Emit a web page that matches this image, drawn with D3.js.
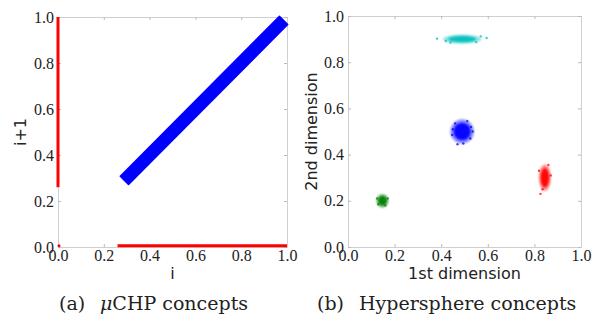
<!DOCTYPE html>
<html><head><meta charset="utf-8">
<script src="https://cdn.jsdelivr.net/npm/d3@7"></script>
<style>
html,body{margin:0;padding:0;background:#fff;}
svg{display:block;}
.tick text{font-family:"Liberation Serif",serif;font-size:16px;fill:#222;}
.axlab{font-family:"DejaVu Sans",sans-serif;font-size:16px;fill:#222;}
.cap{font-family:"DejaVu Serif",serif;font-size:19px;fill:#222;}
</style></head>
<body>
<svg id="c" width="592" height="322"></svg>
<script>
// ---- data ----
const tickValues = [0, 0.2, 0.4, 0.6, 0.8, 1.0];
// panel (a): μCHP concepts — (i, i+1) pairs
const diagStart = [0.29, 0.29], diagEnd = [0.985, 0.985], diagHalfWidth = 0.018;
const redVertical = [[0.0, 0.26], [0.0, 1.0]];
const redHorizontal = [[0.26, 0.005], [1.0, 0.005]];
const redOrigin = [0.0, 0.005];
// panel (b): hypersphere concept clusters
const clusterColor = ["#00bfbf", "#0000ff", "#008000", "#ff0000"];
const clusterX = [0.49, 0.49, 0.148, 0.845];
const clusterY = [0.90, 0.50, 0.20, 0.30];
const clusterSpreadX = [0.075, 0.046, 0.024, 0.023];
const clusterSpreadY = [0.017, 0.048, 0.027, 0.052];
const outliers = [
  [0, 0.382, 0.902], [0, 0.595, 0.905], [0, 0.42, 0.892], [0, 0.57, 0.912], [0, 0.44, 0.885], [0, 0.55, 0.887],
  [1, 0.447, 0.485], [1, 0.47, 0.445], [1, 0.528, 0.52], [1, 0.512, 0.545], [1, 0.46, 0.535], [1, 0.525, 0.47],
  [1, 0.495, 0.448], [1, 0.45, 0.51], [1, 0.535, 0.5],
  [2, 0.13, 0.185], [2, 0.17, 0.21], [2, 0.16, 0.18], [2, 0.125, 0.21],
  [3, 0.826, 0.23], [3, 0.87, 0.31], [3, 0.82, 0.33], [3, 0.86, 0.355], [3, 0.835, 0.25]
];
const captionA = ["(a)", "μ", "CHP concepts"];
const captionB = ["(b)", "Hypersphere concepts"];

const svg = d3.select("#c");
svg.append("rect").attr("width",592).attr("height",322).attr("fill","#fff");
const defs = svg.append("defs");
defs.append("filter").attr("id","fuzz").attr("x","-50%").attr("y","-50%").attr("width","200%").attr("height","200%")
  .append("feGaussianBlur").attr("stdDeviation",0.9);

function frame(g, x, y) {
  const ax = [
    [d3.axisBottom(x), y.range()[0], true, "x"],
    [d3.axisTop(x), y.range()[1], false, "x"],
    [d3.axisLeft(y), x.range()[0], true, "y"],
    [d3.axisRight(y), x.range()[1], false, "y"]
  ];
  ax.forEach(([a, pos, labels, dir]) => {
    a.tickValues(tickValues).tickSizeInner(-3).tickSizeOuter(0)
     .tickPadding(dir === "x" ? 3 : 4)
     .tickFormat(labels ? d3.format(".1f") : "");
    const gg = g.append("g").attr("transform", dir === "x" ? `translate(0,${pos})` : `translate(${pos},0)`).call(a);
    gg.select(".domain").attr("stroke", "#cfcfcf");
    gg.selectAll(".tick line").attr("stroke", "#bbb");
  });
}

// ---- panel (a) ----
const xa = d3.scaleLinear().domain([0,1]).range([58,287]);
const ya = d3.scaleLinear().domain([0,1]).range([247,17]);
const ga = svg.append("g");
frame(ga, xa, ya);
const pa = ga.append("g");
const n = diagHalfWidth;
const band = [
  [diagStart[0]-n, diagStart[1]+n], [diagStart[0]+n, diagStart[1]-n],
  [diagEnd[0]+n, diagEnd[1]-n], [diagEnd[0]-n, diagEnd[1]+n]
];
pa.append("path").attr("d", d3.line().x(d=>xa(d[0])).y(d=>ya(d[1]))(band)+"Z")
  .attr("fill","#0000ff").attr("stroke","#0000ff").attr("stroke-width",1.5).attr("stroke-linejoin","round");
const rl = d3.line().x(d=>xa(d[0])).y(d=>ya(d[1]));
pa.append("path").attr("d", rl(redVertical)).attr("stroke","#ff0000").attr("stroke-width",3).attr("fill","none");
pa.append("path").attr("d", rl(redHorizontal)).attr("stroke","#ff0000").attr("stroke-width",3).attr("fill","none");
pa.append("circle").attr("cx", xa(redOrigin[0])+1).attr("cy", ya(redOrigin[1])).attr("r",1.5).attr("fill","#ff0000");

ga.append("text").attr("class","axlab").attr("x", (xa.range()[0]+xa.range()[1])/2).attr("y",279)
  .attr("text-anchor","middle").text("i");
ga.append("text").attr("class","axlab").attr("transform",`translate(26,${(ya.range()[0]+ya.range()[1])/2}) rotate(-90)`)
  .attr("text-anchor","middle").text("i+1");

// ---- panel (b) ----
const xb = d3.scaleLinear().domain([0,1]).range([348,581]);
const yb = d3.scaleLinear().domain([0,1]).range([247,16]);
const gb = svg.append("g");
frame(gb, xb, yb);
const pb = gb.append("g");
clusterX.forEach((cx, i) => {
  const rx = xb(clusterSpreadX[i]) - xb(0), ry = yb(0) - yb(clusterSpreadY[i]);
  pb.append("ellipse").attr("cx", xb(cx)).attr("cy", yb(clusterY[i]))
    .attr("rx", rx*1.1).attr("ry", ry*1.1).attr("fill", clusterColor[i]).attr("opacity", 0.45)
    .attr("filter","url(#fuzz)");
  pb.append("ellipse").attr("cx", xb(cx)).attr("cy", yb(clusterY[i]))
    .attr("rx", rx*0.8).attr("ry", ry*0.8).attr("fill", clusterColor[i]).attr("opacity", 0.95)
    .attr("filter","url(#fuzz)");
});
pb.selectAll("circle.o").data(outliers).enter().append("circle").attr("class","o")
  .attr("cx", d=>xb(d[1])).attr("cy", d=>yb(d[2])).attr("r", 1.2)
  .attr("fill", d=>clusterColor[d[0]]).attr("opacity", 0.75);

gb.append("text").attr("class","axlab").attr("x", (xb.range()[0]+xb.range()[1])/2).attr("y",279)
  .attr("text-anchor","middle").text("1st dimension");
gb.append("text").attr("class","axlab").attr("transform",`translate(317,${(yb.range()[0]+yb.range()[1])/2}) rotate(-90)`)
  .attr("text-anchor","middle").text("2nd dimension");

// ---- captions ----
svg.append("text").attr("class","cap").attr("x",59).attr("y",310).text(captionA[0]);
const ta = svg.append("text").attr("class","cap").attr("x",100).attr("y",310);
ta.append("tspan").attr("font-style","italic").text(captionA[1]);
ta.append("tspan").text(captionA[2]);
svg.append("text").attr("class","cap").attr("x",317).attr("y",310).text(captionB[0]);
svg.append("text").attr("class","cap").attr("x",359).attr("y",310).text(captionB[1]);
</script>
</body></html>
